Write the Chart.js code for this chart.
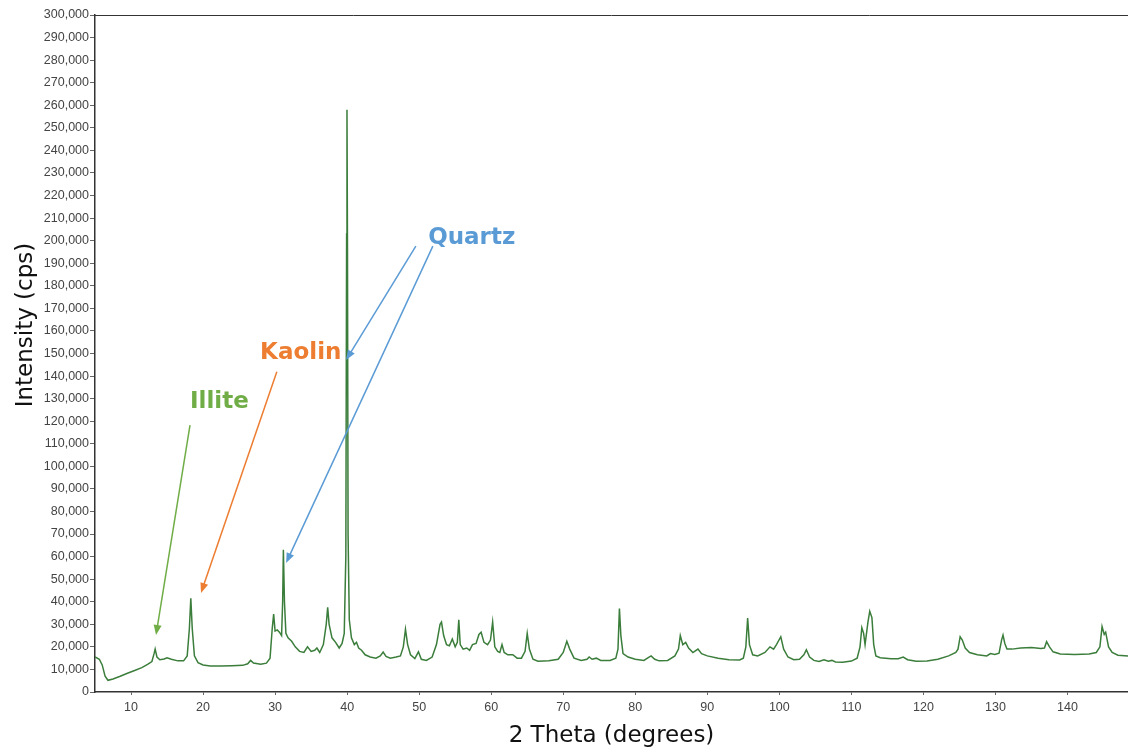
<!DOCTYPE html>
<html>
<head>
<meta charset="utf-8">
<script src="https://cdn.jsdelivr.net/npm/chart.js@4.4.1/dist/chart.umd.min.js"></script>
<style>
  html, body { margin: 0; padding: 0; background: #fff; }
  #wrap { width: 1128px; height: 751px; position: relative; }
</style>
</head>
<body>
<div id="wrap"><canvas id="xrd"></canvas></div>
<script>
// 2 theta (degrees)
const theta = [
  5.0, 5.6, 6.0, 6.4, 6.8, 7.5, 8.5, 9.5, 10.5, 11.5, 12.3, 12.9, 13.2, 13.35, 13.6, 14.0, 14.6, 15.0, 15.6, 16.5,
  17.3, 17.8, 18.1, 18.3, 18.5, 18.8, 19.3, 20.0, 21.0, 22.5, 24.0, 25.5, 26.2, 26.6, 27.0, 28.0, 28.8, 29.3, 29.6, 29.8,
  30.0, 30.3, 30.6, 30.9, 31.05, 31.15, 31.3, 31.5, 31.8, 32.3, 32.8, 33.4, 34.0, 34.5, 35.0, 35.5, 35.8, 36.2, 36.7, 37.1,
  37.3, 37.5, 37.9, 38.4, 38.9, 39.3, 39.6, 39.82, 39.93, 39.98, 40.05, 40.13, 40.3, 40.6, 41.0, 41.3, 41.6, 42.0, 42.5, 43.2,
  44.0, 44.6, 45.0, 45.4, 46.0, 46.8, 47.4, 47.8, 48.1, 48.4, 48.8, 49.4, 49.9, 50.3, 51.0, 51.8, 52.4, 52.9, 53.1, 53.4,
  53.8, 54.2, 54.6, 55.0, 55.3, 55.5, 55.7, 56.1, 56.6, 57.0, 57.4, 57.9, 58.3, 58.6, 59.0, 59.5, 59.9, 60.2, 60.5, 60.9,
  61.2, 61.5, 61.8, 62.3, 63.0, 63.6, 64.2, 64.7, 65.0, 65.3, 65.8, 66.5, 68.0, 69.3, 70.0, 70.5, 70.9, 71.5, 72.5, 73.3,
  73.6, 74.0, 74.6, 75.2, 76.5, 77.3, 77.6, 77.8, 78.0, 78.3, 79.0, 80.0, 81.2, 81.8, 82.2, 82.7, 83.3, 84.5, 85.5, 86.0,
  86.25, 86.6, 87.0, 87.4, 88.0, 88.7, 89.2, 90.0, 91.5, 93.0, 94.5, 95.0, 95.35, 95.6, 95.85, 96.3, 97.0, 98.0, 98.7, 99.2,
  99.6, 100.2, 100.6, 101.2, 102.0, 102.8, 103.4, 103.75, 104.2, 104.8, 105.5, 106.2, 106.8, 107.3, 107.8, 108.8, 110.0, 110.8, 111.2, 111.45,
  111.7, 111.9, 112.3, 112.55, 112.85, 113.1, 113.4, 114.0, 115.5, 116.5, 117.2, 117.8, 119.0, 120.5, 122.0, 123.5, 124.5, 124.8, 125.1, 125.4,
  125.8, 126.4, 127.5, 128.8, 129.3, 129.9, 130.5, 130.85, 131.05, 131.3, 131.6, 132.3, 133.5, 135.0, 136.3, 136.8, 137.1, 137.5, 138.0, 139.0,
  141.0, 143.0, 144.0, 144.5, 144.8, 145.1, 145.3, 145.7, 146.2, 147.0, 148.4
];

// intensity (cps)
const intensity = [
  15500, 14500, 12000, 7000, 5200, 5800, 7000, 8300, 9500, 10800, 12200, 13500, 17000, 19000, 15500, 14300, 14600, 15200, 14500, 13800,
  13800, 16000, 28000, 41500, 28000, 16000, 13000, 12000, 11500, 11500, 11600, 11800, 12500, 14000, 12800, 12300, 12800, 15000, 28000, 34500,
  27000, 27500, 26500, 25000, 40000, 63000, 40000, 26000, 24000, 22500, 20000, 18000, 17500, 20000, 18000, 18500, 19500, 17500, 21000, 30000,
  37500, 30000, 24000, 22000, 19500, 21500, 26000, 60000, 203000, 258000, 196000, 70000, 32000, 24000, 21000, 22000, 19500, 18500, 16500, 15500,
  15000, 16000, 17700, 15800, 15000, 15500, 16000, 20000, 27800, 21000, 16500, 14800, 17800, 14500, 14000, 15500, 21000, 30000, 31000, 25000,
  21000, 20500, 23500, 20000, 22000, 32000, 21000, 19000, 19500, 18500, 21000, 21500, 25500, 26500, 22000, 21000, 23000, 31000, 20000, 18000,
  17500, 21000, 17500, 16500, 16500, 15000, 15000, 18000, 26000, 19000, 14500, 13600, 13800, 14500, 17500, 22500, 19000, 15000, 14000, 14500,
  15500, 14500, 15000, 14000, 14000, 15000, 19000, 37000, 25000, 17000, 15500, 14500, 14000, 15200, 16000, 14500, 13800, 14000, 16000, 19000,
  25000, 21000, 22000, 19500, 17500, 19000, 17000, 16000, 15000, 14300, 14200, 15000, 20000, 32800, 21000, 16500, 16000, 17500, 20000, 19000,
  21000, 24500, 19000, 15500, 14300, 14500, 16500, 18700, 15500, 14000, 13500, 14300, 13600, 14000, 13300, 13200, 13700, 15000, 20000, 28500,
  26000, 21000, 31000, 35800, 33000, 21000, 16000, 15200, 14700, 14700, 15500, 14300, 13600, 13700, 14500, 16000, 17500, 19000, 24500, 23000,
  19500, 17500, 16500, 16000, 17000, 16600, 17200, 23000, 25200, 21500, 19000, 19000, 19500, 19700, 19300, 19500, 22300, 20000, 17800, 16800,
  16600, 16800, 17500, 20000, 29000, 25500, 26500, 20000, 17500, 16300, 16000
];

const xTicks = [10, 20, 30, 40, 50, 60, 70, 80, 90, 100, 110, 120, 130, 140];
const yTicks = [];
for (let v = 0; v <= 300000; v += 10000) yTicks.push(v);

// 标注 (data units)
const labelText = ['Illite', 'Kaolin', 'Quartz'];
const labelColor = ['#70ad47', '#ed7d31', '#5b9bd5'];
const labelPos = [[18.19, 128500], [27.92, 150200], [51.25, 201200]];
// arrows: [from theta, from cps, to theta, to cps, colour index]
const arrows = [
  [18.19, 118300, 13.47, 25300, 0],
  [30.24, 141900, 19.72, 43900, 1],
  [49.54, 197600, 39.86, 147100, 2],
  [51.90, 197600, 31.53, 57200, 2]
];

const points = theta.map((t, i) => ({ x: t, y: intensity[i] }));

function drawArrow(ctx, x1, y1, x2, y2, color) {
  const ang = Math.atan2(y2 - y1, x2 - x1);
  const head = 10, half = 4;
  ctx.save();
  ctx.strokeStyle = color;
  ctx.fillStyle = color;
  ctx.lineWidth = 1.5;
  ctx.beginPath();
  ctx.moveTo(x1, y1);
  ctx.lineTo(x2 - Math.cos(ang) * head * 0.8, y2 - Math.sin(ang) * head * 0.8);
  ctx.stroke();
  ctx.beginPath();
  ctx.moveTo(x2, y2);
  ctx.lineTo(x2 - Math.cos(ang) * head - Math.sin(ang) * half, y2 - Math.sin(ang) * head + Math.cos(ang) * half);
  ctx.lineTo(x2 - Math.cos(ang) * head + Math.sin(ang) * half, y2 - Math.sin(ang) * head - Math.cos(ang) * half);
  ctx.closePath();
  ctx.fill();
  ctx.restore();
}

const annotations = {
  id: 'annotations',
  afterDatasetsDraw(chart) {
    const { ctx, chartArea, scales: { x, y } } = chart;
    // top border
    ctx.save();
    ctx.strokeStyle = '#333';
    ctx.lineWidth = 1;
    ctx.beginPath();
    ctx.moveTo(chartArea.left, chartArea.top + 0.5);
    ctx.lineTo(chartArea.right, chartArea.top + 0.5);
    ctx.stroke();
    ctx.restore();

    arrows.forEach(a => {
      drawArrow(ctx, x.getPixelForValue(a[0]), y.getPixelForValue(a[1]),
        x.getPixelForValue(a[2]), y.getPixelForValue(a[3]), labelColor[a[4]]);
    });

    ctx.save();
    ctx.font = 'bold 23px "DejaVu Sans"';
    ctx.textAlign = 'left';
    ctx.textBaseline = 'middle';
    labelText.forEach((t, i) => {
      ctx.fillStyle = labelColor[i];
      ctx.fillText(t, x.getPixelForValue(labelPos[i][0]), y.getPixelForValue(labelPos[i][1]));
    });
    ctx.restore();

    // axis titles
    ctx.save();
    ctx.fillStyle = '#111';
    ctx.font = '23px "DejaVu Sans"';
    ctx.textAlign = 'center';
    ctx.textBaseline = 'middle';
    ctx.fillText('2 Theta (degrees)', (chartArea.left + chartArea.right) / 2, 736);
    ctx.translate(26, 325);
    ctx.rotate(-Math.PI / 2);
    ctx.fillText('Intensity (cps)', 0, 0);
    ctx.restore();
  }
};

const tickFont = { family: 'Liberation Sans', size: 12.5 };

new Chart(document.getElementById('xrd').getContext('2d'), {
  type: 'line',
  data: {
    datasets: [{
      data: points,
      borderColor: '#3b7d3b',
      borderWidth: 1.5,
      pointRadius: 0,
      tension: 0,
      fill: false
    }]
  },
  options: {
    responsive: true,
    maintainAspectRatio: false,
    animation: false,
    layout: { padding: { top: 15, right: 0, left: 0, bottom: 0 } },
    plugins: { legend: { display: false }, tooltip: { enabled: false } },
    scales: {
      x: {
        type: 'linear',
        min: 5,
        max: 148.4,
        afterBuildTicks: axis => { axis.ticks = xTicks.map(v => ({ value: v })); },
        afterFit: axis => { axis.height = 59; },
        grid: { display: true, drawOnChartArea: false, drawTicks: true, tickLength: 3, color: '#666' },
        border: { display: true, color: '#333', width: 1.5 },
        ticks: { font: tickFont, color: '#444', padding: 5, maxRotation: 0 }
      },
      y: {
        min: 0,
        max: 300000,
        afterBuildTicks: axis => { axis.ticks = yTicks.map(v => ({ value: v })); },
        afterFit: axis => { axis.width = 95; },
        grid: { display: true, drawOnChartArea: false, drawTicks: true, tickLength: 5, color: '#666' },
        border: { display: true, color: '#333', width: 1.5 },
        ticks: {
          font: tickFont, color: '#444', padding: 1, autoSkip: false,
          callback: v => v.toLocaleString('en-US')
        }
      }
    }
  },
  plugins: [annotations]
});
</script>
</body>
</html>
